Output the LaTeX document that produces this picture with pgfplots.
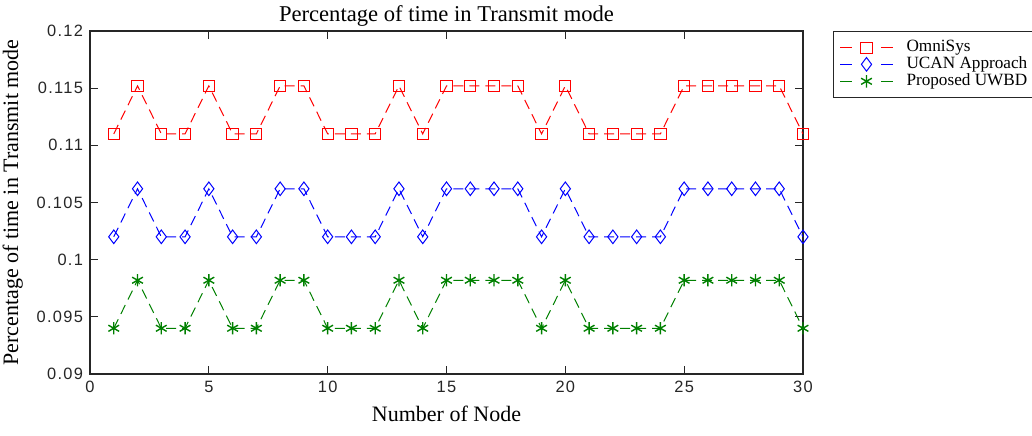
\documentclass[border=0pt]{standalone}
\usepackage{pgfplots}
\pgfplotsset{compat=1.18}
\usepackage{fontspec}
\setmainfont{Liberation Serif}
\newfontfamily\arial[LetterSpace=8]{Liberation Sans}
\definecolor{axgray}{RGB}{38,38,38}
\definecolor{mgreen}{rgb}{0,0.5,0}

\pgfplotstableread{
node omni ucan uwbd
1  0.1110 0.1020 0.0940
2  0.1152 0.1062 0.0982
3  0.1110 0.1020 0.0940
4  0.1110 0.1020 0.0940
5  0.1152 0.1062 0.0982
6  0.1110 0.1020 0.0940
7  0.1110 0.1020 0.0940
8  0.1152 0.1062 0.0982
9  0.1152 0.1062 0.0982
10 0.1110 0.1020 0.0940
11 0.1110 0.1020 0.0940
12 0.1110 0.1020 0.0940
13 0.1152 0.1062 0.0982
14 0.1110 0.1020 0.0940
15 0.1152 0.1062 0.0982
16 0.1152 0.1062 0.0982
17 0.1152 0.1062 0.0982
18 0.1152 0.1062 0.0982
19 0.1110 0.1020 0.0940
20 0.1152 0.1062 0.0982
21 0.1110 0.1020 0.0940
22 0.1110 0.1020 0.0940
23 0.1110 0.1020 0.0940
24 0.1110 0.1020 0.0940
25 0.1152 0.1062 0.0982
26 0.1152 0.1062 0.0982
27 0.1152 0.1062 0.0982
28 0.1152 0.1062 0.0982
29 0.1152 0.1062 0.0982
30 0.1110 0.1020 0.0940
}\data

\begin{document}
\begin{tikzpicture}
\useasboundingbox (-45pt,-30.5pt) rectangle (471pt,187pt);
\begin{axis}[
    at={(0,0)}, anchor=south west,
    scale only axis,
    width=356.5pt, height=171.5pt,
    xmin=0, xmax=30, ymin=0.09, ymax=0.12,
    xtick={0,5,...,30},
    ytick={0.09,0.095,...,0.121},
    scaled y ticks=false,
    yticklabel style={/pgf/number format/.cd, fixed, precision=3},
    /pgf/number format/assume math mode=true,
    tick label style={font=\arial\fontsize{8.2}{10}\selectfont, text=axgray},
    tick align=inside,
    major tick length=4pt,
    axis line style={axgray, line width=0.75pt},
    tick style={axgray, line width=0.6pt},
    title={Percentage of time in Transmit mode},
    title style={font=\fontsize{11.3}{13}\selectfont, yshift=-7pt},
    xlabel={Number of Node},
    ylabel={Percentage of time in Transmit mode},
    label style={font=\fontsize{11}{13}\selectfont},
    legend style={at={(rel axis cs:1,1)}, anchor=north west, xshift=15pt,
        draw=axgray, line width=0.5pt, font=\fontsize{8.6}{10}\selectfont,
        row sep=-3pt, inner xsep=2pt, inner ysep=2.5pt,
        cells={anchor=west}},
    legend image code/.code={
        \draw[only marks] plot coordinates {(14.25pt,0pt)};
        \draw[solid, line width=0.6pt] (1pt,0pt) -- (7pt,0pt) (21.5pt,0pt) -- (27.5pt,0pt);
        \path (0pt,0pt) (32pt,0pt);},
    every axis plot/.append style={line width=0.5pt, dash pattern=on 5pt off 3pt},
]
\addplot[red, mark=square, mark size=2.8pt, mark options={solid}] table[x=node, y=omni] {\data};
\addlegendentry{OmniSys}
\addplot[blue, mark=diamond, mark size=3.4pt, mark options={solid}] table[x=node, y=ucan] {\data};
\addlegendentry{UCAN Approach}
\addplot[mgreen, mark=asterisk, mark size=3.1pt, mark options={solid, line width=0.7pt}] table[x=node, y=uwbd] {\data};
\addlegendentry{Proposed UWBD}
\end{axis}
\end{tikzpicture}
\end{document}
